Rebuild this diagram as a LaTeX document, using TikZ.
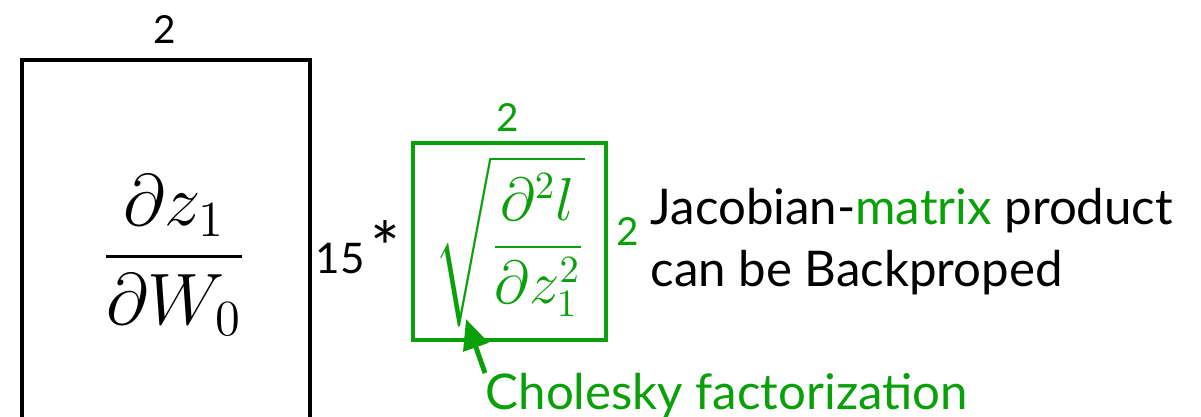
\documentclass[tikz,border=0pt]{standalone}
\usepackage{amsmath, amssymb}
\usepackage{fontspec}
\setmainfont{Lato}
\usepackage{tikz}
\usetikzlibrary{positioning, arrows.meta, calc}
\usepackage{xcolor}
\definecolor{cholgreen}{RGB}{10, 160, 10}

\begin{document}
\begin{tikzpicture}[
  mat/.style={draw, line width=1.2pt, inner sep=0pt},
  dimlab/.style={font=\fontsize{11}{13}\selectfont, inner sep=0pt},
  txt/.style={font=\fontsize{14}{17}\selectfont, inner sep=0pt, anchor=base west},
  arr/.style={-{Triangle[length=3mm, width=2.6mm]}, line width=1.4pt, draw=cholgreen}
]
\useasboundingbox (0,0) rectangle (12.01,4.17);
\clip (0,0) rectangle (12.01,4.17);
% left Jacobian block
\node[mat, minimum width=2.88cm, minimum height=4.2cm, anchor=north] (jac) at (1.66,3.59) {};
\node[inner sep=0pt, font=\fontsize{21}{25}\selectfont] (dz) at (1.74,1.62) {$\dfrac{\partial z_1}{\partial W_0}$};
\node[dimlab] (jw) at (1.65,3.87) {2};
\node[dimlab, font=\fontsize{12}{15}\selectfont] (jh) at (3.40,1.58) {15};
\node[inner sep=0pt, font=\fontsize{20}{22}\selectfont] (times) at (3.85,1.70) {*};
% green Hessian block
\node[mat, draw=cholgreen, text=cholgreen, minimum width=1.93cm, minimum height=1.97cm,
  font=\fontsize{16}{19}\selectfont] (hes) at (5.095,1.755) {$\sqrt{\dfrac{\partial^2 l}{\partial z_1^2}}$};
\node[dimlab, text=cholgreen] (hw) at (5.08,2.99) {2};
\node[dimlab, text=cholgreen] (hh) at (6.28,1.85) {2};
% notes
\node[txt] (line1) at (6.50,1.92) {Jacobian-\textcolor{cholgreen}{matrix} product};
\node[txt] (line2) at (6.50,1.30) {can be Backproped};
\node[txt, text=cholgreen] (chol) at (4.85,0.07) {Cholesky factorization};
\coordinate (rad) at (4.66,0.98);
\draw[arr] (chol.north west) -- (rad);
\end{tikzpicture}
\end{document}
